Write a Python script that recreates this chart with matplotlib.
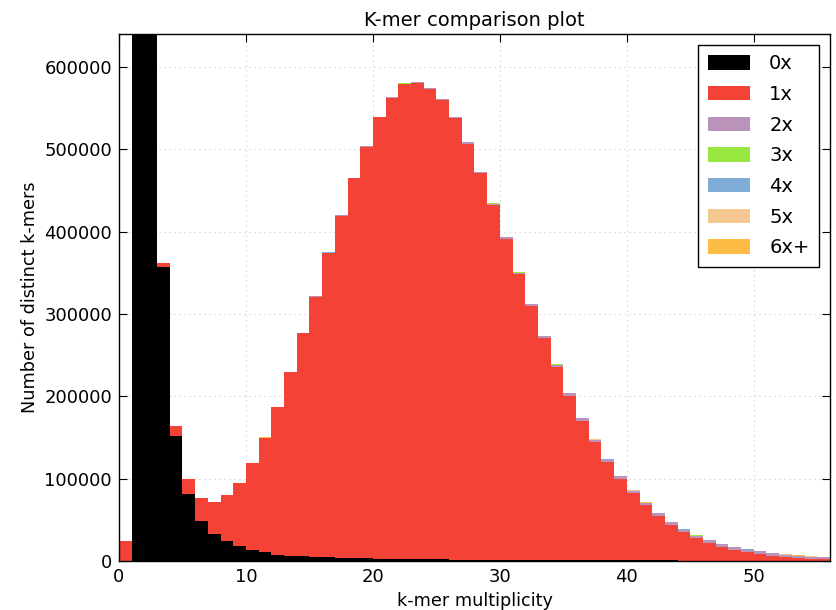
import numpy as np
import matplotlib
matplotlib.use("Agg")
from matplotlib import pyplot as plt

# k-mer multiplicity bins (left edges), one bar per bin
bins = list(range(56))

# distinct k-mer counts per bin, split by copy number in the assembly
cn0 = [0, 3200000, 1150000, 356500, 152200, 81700, 49100, 32600, 23900, 17800,
       13000, 10400, 7800, 6600, 5700, 5000, 4400, 3900, 3500, 3100,
       2800, 2600, 2400, 2200, 2000, 1900, 1800, 1700, 1600, 1500,
       1400, 1300, 1200, 1100, 1050, 1000, 950, 900, 850, 800,
       760, 720, 680, 650, 620, 590, 560, 540, 520, 500,
       480, 460, 440, 420, 400, 380]
cn1 = [23900, 30000, 22000, 5700, 11400, 18100, 27700, 38900, 56300, 77200,
       105980, 139460, 179010, 222470, 270620, 316020, 369850, 415570, 461560, 500160,
       535910, 559790, 576440, 578490, 570830, 557490, 535810, 505170, 469210, 430650,
       390090, 346760, 308690, 269770, 234880, 199920, 169350, 143490, 119260, 99140,
       81520, 66810, 54010, 42910, 34220, 27140, 21670, 16400, 13240, 10090,
       8140, 6110, 4480, 3370, 2440, 1710]
cn2 = [0, 100, 200, 150, 100, 80, 60, 50, 50, 60,
       80, 100, 130, 170, 220, 280, 350, 430, 520, 620,
       730, 850, 980, 1110, 1250, 1390, 1530, 1670, 1810, 1950,
       2090, 2220, 2350, 2470, 2590, 2700, 2800, 2890, 2970, 3040,
       3100, 3150, 3190, 3220, 3240, 3250, 3250, 3240, 3220, 3190,
       3000, 2850, 2700, 2550, 2400, 2250]
cn3 = [0, 20, 20, 10, 10, 10, 10, 10, 10, 10,
       10, 10, 20, 20, 20, 30, 30, 30, 40, 40,
       50, 50, 60, 60, 70, 70, 80, 80, 90, 90,
       100, 100, 110, 110, 120, 120, 120, 130, 130, 130,
       130, 130, 130, 130, 130, 130, 130, 130, 130, 130,
       120, 120, 120, 110, 110, 110]
cn4 = [0, 10, 10, 10, 10, 10, 10, 10, 10, 10,
       10, 10, 10, 10, 10, 20, 20, 20, 20, 20,
       30, 30, 30, 40, 40, 40, 50, 50, 50, 60,
       60, 60, 70, 70, 70, 70, 80, 80, 80, 80,
       80, 80, 80, 80, 80, 80, 80, 80, 80, 80,
       70, 70, 70, 70, 70, 70]
cn5 = [0, 20, 20, 10, 10, 10, 10, 10, 10, 10,
       10, 10, 20, 20, 20, 30, 30, 30, 40, 40,
       50, 50, 60, 60, 70, 70, 80, 80, 90, 90,
       100, 100, 110, 110, 120, 120, 120, 130, 130, 130,
       130, 130, 130, 130, 130, 130, 130, 130, 130, 130,
       120, 120, 120, 110, 110, 110]
cn6 = [0, 30, 20, 10, 10, 10, 10, 10, 10, 10,
       10, 10, 10, 10, 10, 20, 20, 20, 20, 20,
       30, 30, 30, 40, 40, 40, 50, 50, 50, 60,
       60, 60, 70, 70, 70, 70, 80, 80, 80, 80,
       80, 80, 80, 80, 80, 80, 80, 80, 80, 80,
       70, 70, 70, 70, 70, 70]

layers = [cn0, cn1, cn2, cn3, cn4, cn5, cn6]
labels = ["0x", "1x", "2x", "3x", "4x", "5x", "6x+"]
colours = ["#000000", "#f44336", "#b993b9", "#98e640", "#80acd8", "#f4c890", "#fcbc46"]


def main():
    fig = plt.figure(figsize=(8.36, 6.10), dpi=100)
    ax = fig.add_axes([0.1423, 0.0803, 0.8505, 0.864])

    bottom = np.zeros(len(bins))
    for vals, lab, col in zip(layers, labels, colours):
        vals = np.array(vals, dtype=float)
        ax.bar(bins, vals, width=1.0, align="edge", bottom=bottom,
               color=col, linewidth=0, label=lab, zorder=2)
        bottom += vals

    ax.set_xlim(0, 56)
    ax.set_ylim(0, 640000)
    ax.set_xticks(np.arange(0, 51, 10))
    ax.set_yticks(np.arange(0, 600001, 100000))
    ax.ticklabel_format(axis="y", style="plain")
    ax.tick_params(direction="in", top=True, right=True, length=6,
                   labelsize=13, pad=5)
    ax.grid(True, linestyle=(0, (1, 3.5)), color="#c8c8c8", linewidth=0.8, zorder=0)
    ax.set_axisbelow(True)
    for sp in ax.spines.values():
        sp.set_linewidth(1.0)

    ax.set_title("K-mer comparison plot", fontsize=14)
    ax.set_xlabel("k-mer multiplicity", fontsize=12.7)
    ax.set_ylabel("Number of distinct k-mers", fontsize=12.7)

    leg = ax.legend(loc="upper right", fontsize=14, fancybox=False,
                    framealpha=1, handlelength=2.15, handleheight=0.75,
                    labelspacing=0.6, borderpad=0.5, handletextpad=1.0,
                    borderaxespad=0.55)
    leg.get_frame().set_edgecolor("black")
    leg.get_frame().set_linewidth(1.0)

    fig.savefig("out.png", dpi=100)


if __name__ == "__main__":
    main()
